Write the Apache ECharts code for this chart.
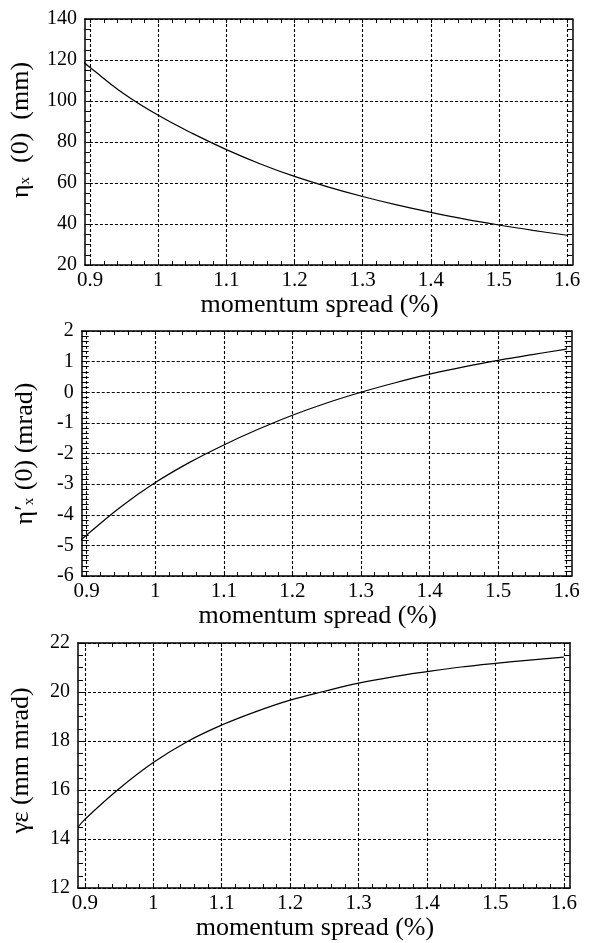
<!DOCTYPE html>
<html>
<head>
<meta charset="utf-8">
<style>
html,body{margin:0;padding:0;background:#fff;}
#chart{width:594px;height:943px;}
</style>
<script src="https://cdn.jsdelivr.net/npm/echarts@6/dist/echarts.min.js"></script>
</head>
<body>
<div id="chart"></div>
<script>
// momentum spread (%)
var momentum = [0.89, 0.9, 0.95, 1.0, 1.05, 1.1, 1.15, 1.2, 1.25, 1.3, 1.35, 1.4, 1.45, 1.5, 1.55, 1.6];
// eta_x(0) (mm)
var etaX = [119.0, 116.3, 103.4, 93.0, 84.2, 76.3, 69.3, 63.2, 58.0, 53.4, 49.3, 45.7, 42.4, 39.5, 36.9, 34.5];
// eta'_x(0) (mrad)
var etaPrime = [-4.85, -4.66, -3.74, -2.95, -2.29, -1.72, -1.21, -0.75, -0.35, 0.0, 0.31, 0.59, 0.83, 1.04, 1.23, 1.41];
// gamma epsilon (mm mrad)
var emittance = [14.48, 14.8, 16.05, 17.12, 17.98, 18.65, 19.2, 19.67, 20.03, 20.36, 20.62, 20.83, 21.02, 21.17, 21.3, 21.42];

var xMajor = [0.9, 1, 1.1, 1.2, 1.3, 1.4, 1.5, 1.6];
var xMinor = [0.9, 0.92, 0.94, 0.96, 0.98, 1, 1.02, 1.04, 1.06, 1.08, 1.1, 1.12, 1.14, 1.16, 1.18,
              1.2, 1.22, 1.24, 1.26, 1.28, 1.3, 1.32, 1.34, 1.36, 1.38, 1.4, 1.42, 1.44, 1.46, 1.48,
              1.5, 1.52, 1.54, 1.56, 1.58, 1.6];

var FONT = 'Liberation Serif';
var xName = 'momentum spread (%)';

var panels = [
    {grid: {left: 80.7, right: 21.7, top: 19, height: 246}, xMin: 0.8923, xMax: 1.6077,
     yMin: 20, yMax: 140, yStep: 20, ySub: 4, yTick: 5, data: etaX,
     name: '{a|η}{s|x}{a|  (0)  (mm)}', namePad: [0, 0, 0, 24]},
    {grid: {left: 81.7, right: 22.3, top: 331, height: 245}, xMin: 0.8927, xMax: 1.6073,
     yMin: -6, yMax: 2, yStep: 1, ySub: 6, yTick: 7, data: etaPrime,
     name: '{a|η′}{s|x}{a| (0) (mrad)}', namePad: [0, 0, 0, 0]},
    {grid: {left: 77.5, right: 24, top: 643, height: 245}, xMin: 0.890, xMax: 1.609,
     yMin: 12, yMax: 22, yStep: 2, ySub: 4, yTick: 5, data: emittance,
     name: '{a|γε (mm mrad)}', namePad: [0, 0, 0, 10]}
];

var axisLineStyle = {color: '#000', width: 1.5};
var gridLineStyle = {color: '#000', width: 1.1, type: [3, 2]};

var grids = [], xAxes = [], yAxes = [], series = [];

panels.forEach(function(p, i){
    grids.push(p.grid);

    // bottom axis: frame, minor ticks, labels, name
    xAxes.push({
        type: 'value', gridIndex: i, position: 'bottom', min: p.xMin, max: p.xMax,
        axisLine: {show: true, onZero: false, lineStyle: axisLineStyle},
        axisTick: {show: true, inside: true, length: 4, customValues: xMinor, lineStyle: {color: '#000', width: 1}},
        axisLabel: {customValues: xMajor, color: '#000', fontFamily: FONT, fontSize: 21, margin: 5},
        splitLine: {show: false},
        name: xName, nameLocation: 'middle', nameGap: 20,
        nameTextStyle: {color: '#000', fontFamily: FONT, fontSize: 26, padding: [0, 18, 0, 0]}
    });
    // top axis: frame and minor ticks
    xAxes.push({
        type: 'value', gridIndex: i, position: 'top', min: p.xMin, max: p.xMax,
        axisLine: {show: true, onZero: false, lineStyle: axisLineStyle},
        axisTick: {show: true, inside: true, length: 4, customValues: xMinor, lineStyle: {color: '#000', width: 1}},
        axisLabel: {show: false},
        splitLine: {show: false}
    });
    // vertical grid lines
    xAxes.push({
        type: 'value', gridIndex: i, position: 'bottom', min: p.xMin, max: p.xMax, splitNumber: 7,
        axisLine: {show: false},
        axisTick: {show: false, customValues: xMajor},
        axisLabel: {show: false},
        splitLine: {show: true, lineStyle: gridLineStyle}
    });

    var yBase = {
        type: 'value', gridIndex: i, min: p.yMin, max: p.yMax, interval: p.yStep,
        axisLine: {show: true, onZero: false, lineStyle: axisLineStyle},
        axisTick: {show: true, inside: true, length: p.yTick, lineStyle: {color: '#000', width: 1}},
        minorTick: {show: true, splitNumber: p.ySub, length: p.yTick, lineStyle: {color: '#000', width: 1}}
    };
    yAxes.push(Object.assign({}, yBase, {
        position: 'left',
        axisLabel: {color: '#000', fontFamily: FONT, fontSize: 20, margin: 8},
        splitLine: {show: true, lineStyle: gridLineStyle},
        name: p.name, nameLocation: 'middle', nameRotate: 90, nameGap: 42,
        nameTextStyle: {
            color: '#000', fontFamily: FONT, padding: p.namePad,
            rich: {
                a: {fontFamily: FONT, fontSize: 26, color: '#000', lineHeight: 30, verticalAlign: 'middle'},
                s: {fontFamily: FONT, fontSize: 15, color: '#000', lineHeight: 15, verticalAlign: 'bottom', padding: [0, 1, 3, 0]}
            }
        }
    }));
    yAxes.push(Object.assign({}, yBase, {
        position: 'right',
        axisLabel: {show: false},
        splitLine: {show: false}
    }));

    series.push({
        type: 'line', xAxisIndex: 3 * i, yAxisIndex: 2 * i,
        data: momentum.map(function(m, k){ return [m, p.data[k]]; }),
        smooth: 0.4, showSymbol: false, silent: true,
        lineStyle: {color: '#000', width: 1.2}
    });
});

var chart = echarts.init(document.getElementById('chart'), null, {renderer: 'canvas'});
chart.setOption({
    animation: false,
    backgroundColor: '#fff',
    grid: grids,
    xAxis: xAxes,
    yAxis: yAxes,
    series: series
});
</script>
</body>
</html>
